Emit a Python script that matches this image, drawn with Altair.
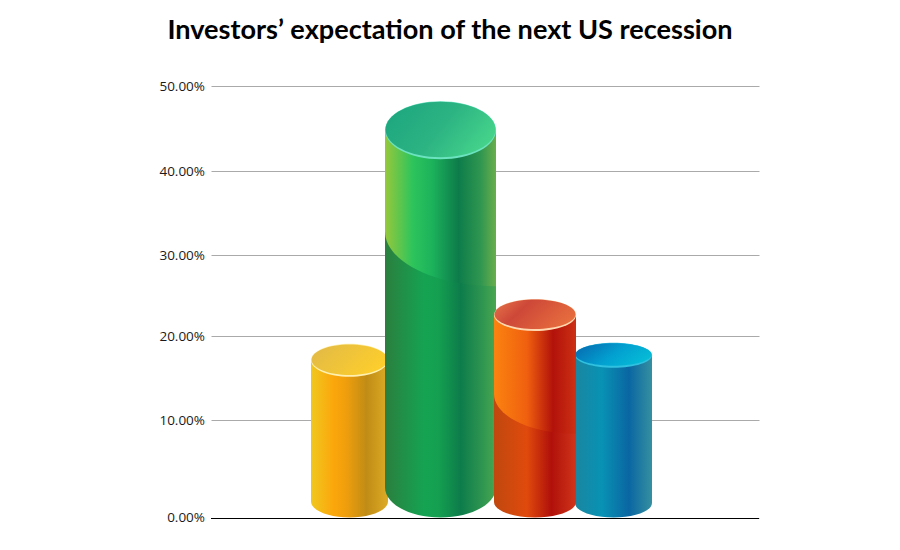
import altair as alt

TITLE = "Investors’ expectation of the next US recession"
series = ["Yellow", "Green", "Orange", "Blue"]
values = [0.171, 0.448, 0.226, 0.177]
tick_values = [0, 0.1, 0.2, 0.3, 0.4, 0.5]

# layout of the drawing (not data)
PLOT_W, PLOT_H = 548, 431.5
left_edge = [100, 174, 283, 364]
right_edge = [177, 285, 365, 441]
top_h = [33, 58, 32, 25]
bottom_h = [32, 60, 31, 29]
swoosh = [None, (1.82, 2.81), (1.93, 2.9), None]
y_range = [431.5, 334, 250, 169, 85, 0]


def lin(stops, x1=0, y1=0, x2=1, y2=0):
    return alt.Gradient(
        gradient="linear", x1=x1, y1=y1, x2=x2, y2=y2,
        stops=[alt.GradientStop(offset=o, color=c) for o, c in stops],
    )


body_lower = [
    [(0, "#f0c81f"), (0.3, "#fba60b"), (0.45, "#f09f0c"), (0.72, "#c08c15"), (1, "#deab26")],
    [(0, "#2a7f3e"), (0.35, "#15a352"), (0.48, "#14a050"), (0.68, "#0d7c4b"), (0.88, "#2f9650"), (1, "#4aa64f")],
    [(0, "#c0480f"), (0.4, "#e04a0c"), (0.7, "#b0100a"), (1, "#d0351a")],
    [(0, "#1a86a0"), (0.35, "#0892b4"), (0.7, "#0a66a2"), (1, "#3590a0")],
]
body_upper = [
    None,
    [(0, "#96c83c"), (0.25, "#2dc45c"), (0.42, "#1cb35c"), (0.66, "#0d7c4a"), (0.86, "#2f9650"), (1, "#6aae4c")],
    [(0, "#fb8310"), (0.4, "#f0600f"), (0.72, "#b2120a"), (1, "#cc3014")],
    None,
]
top_fill = [
    [(0, "#e3bb45"), (1, "#ffcf2a")],
    [(0, "#1ea77f"), (0.5, "#2db483"), (1, "#47d68b")],
    [(0, "#e06a45"), (0.3, "#ce4838"), (1, "#e8703e")],
    [(0, "#0670b4"), (0.5, "#02a0d0"), (1, "#06bed6")],
]
rim = ["#fff0b0", "#6ce3c0", "#ffd8b0", "#30c0e0"]

K = 0.5523


def ellipse_path(a):
    return (
        f"M-1,0 C-1,{-K*a:.4f} {-K:.4f},{-a:.4f} 0,{-a:.4f} "
        f"C{K:.4f},{-a:.4f} 1,{-K*a:.4f} 1,0 "
        f"C1,{K*a:.4f} {K:.4f},{a:.4f} 0,{a:.4f} "
        f"C{-K:.4f},{a:.4f} -1,{K*a:.4f} -1,0 Z"
    )


def swoosh_path(yl, yr):
    d = yr - yl
    return (
        f"M-1,0 L1,0 L1,{yr:.4f} "
        f"C{1-2*K:.4f},{yr:.4f} -1,{yl+K*d:.4f} -1,{yl:.4f} Z"
    )


x_scale = alt.Scale(domain=[0, PLOT_W], range=[0, PLOT_W], nice=False, zero=False)
y_scale = alt.Scale(domain=tick_values, range=y_range, nice=False, clamp=False)

y_axis = alt.Axis(
    values=tick_values, format=".2%", title=None, ticks=False, domain=False,
    labelFont="Open Sans", labelFontSize=13.5, labelColor="#1a1a1a", labelPadding=6.5,
    grid=True, gridColor="#aaaaaa", gridWidth=1,
)

layers = []

grid = alt.Chart(alt.Data(values=[{"v": v} for v in tick_values])).mark_rule(opacity=0).encode(
    x=alt.value(0), x2=alt.value(PLOT_W),
    y=alt.Y("v:Q", scale=y_scale, axis=y_axis),
)
layers.append(grid)

base_line = alt.Chart(alt.Data(values=[{"v": 0}])).mark_rule(
    color="#000000", strokeWidth=1, yOffset=1
).encode(
    x=alt.value(0), x2=alt.value(PLOT_W),
    y=alt.Y("v:Q", scale=y_scale, axis=y_axis),
)
layers.append(base_line)

for i in [0, 1, 3, 2]:
    w = right_edge[i] - left_edge[i]
    row = {
        "name": series[i], "value": values[i], "zero": 0,
        "l": left_edge[i], "r": right_edge[i], "c": (left_edge[i] + right_edge[i]) / 2,
    }
    d = alt.Data(values=[row])
    X = alt.X("c:Q", scale=x_scale, axis=None)
    Y = alt.Y("value:Q", scale=y_scale, axis=y_axis)
    Y0 = alt.Y("zero:Q", scale=y_scale, axis=y_axis)
    size = w * w

    lower = lin(body_lower[i])
    layers.append(alt.Chart(d).mark_point(
        shape=ellipse_path(bottom_h[i] / w), size=size, filled=True, fill=lower,
        opacity=1, strokeWidth=0, yOffset=-bottom_h[i] / 2,
    ).encode(x=X, y=Y0))
    layers.append(alt.Chart(d).mark_bar(
        fill=lower, opacity=1, y2Offset=-bottom_h[i] / 2,
    ).encode(
        x=alt.X("l:Q", scale=x_scale, axis=None), x2="r:Q",
        y=Y, y2="zero:Q",
    ))
    if swoosh[i]:
        layers.append(alt.Chart(d).mark_point(
            shape=swoosh_path(*swoosh[i]), size=size, filled=True, fill=lin(body_upper[i]),
            opacity=1, strokeWidth=0,
        ).encode(x=X, y=Y))
    layers.append(alt.Chart(d).mark_point(
        shape=ellipse_path(top_h[i] / w), size=size, filled=True, fill=rim[i],
        opacity=1, strokeWidth=0,
    ).encode(x=X, y=Y))
    layers.append(alt.Chart(d).mark_point(
        shape=ellipse_path((top_h[i] - 2.5) / (w - 1)), size=(w - 1) ** 2, filled=True,
        fill=lin(top_fill[i], 0, 0.3, 1, 0.7),
        opacity=1, strokeWidth=0, yOffset=-0.7,
    ).encode(x=X, y=Y))

chart = alt.layer(*layers).properties(
    width=PLOT_W, height=PLOT_H,
    autosize=alt.AutoSizeParams(type="none"),
    padding={"left": 203, "top": 78, "right": 125, "bottom": 24},
    title=alt.TitleParams(
        TITLE, font="Lato", fontSize=27.1, fontWeight="bold", color="#000000",
        anchor="middle", dx=-35, offset=34,
    ),
).configure_view(stroke=None)

chart.save("out.html", embed_options={"renderer": "svg", "actions": False})
